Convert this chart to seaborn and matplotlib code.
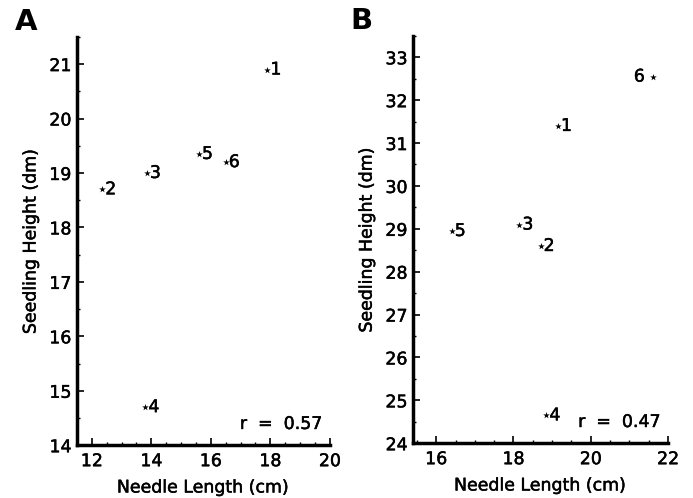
import matplotlib
matplotlib.use("Agg")
import matplotlib.pyplot as plt
import matplotlib.patheffects as pe
import seaborn as sns
import pandas as pd
from matplotlib.ticker import MultipleLocator

# Panel A
a_ids = ["1", "2", "3", "4", "5", "6"]
a_needle = [17.9, 12.35, 13.85, 13.8, 15.6, 16.5]
a_height = [20.9, 18.7, 19.0, 14.7, 19.35, 19.2]
a_r = "r  =  0.57"

# Panel B
b_ids = ["1", "2", "3", "4", "5", "6"]
b_needle = [19.15, 18.7, 18.15, 18.85, 16.4, 21.6]
b_height = [31.4, 28.6, 29.1, 24.65, 28.95, 32.55]
b_r = "r  =  0.47"

sns.set_theme(style="ticks")
plt.rcParams["font.family"] = ["DejaVu Sans"]
plt.rcParams["text.color"] = "black"
plt.rcParams["axes.labelcolor"] = "black"
plt.rcParams["xtick.color"] = "black"
plt.rcParams["ytick.color"] = "black"

# slightly heavier strokes for text, like the printed figure
thick = [pe.withStroke(linewidth=0.35, foreground="black")]

fig = plt.figure(figsize=(6.93, 4.98), dpi=100)
ax_a = fig.add_axes([0.111, 0.106, 0.365, 0.820])
ax_b = fig.add_axes([0.596, 0.110, 0.368, 0.818])


def draw_panel(ax, ids, xs, ys, rtext, xlim, ylim, xmaj, letter, left_labels=()):
    df = pd.DataFrame({"x": xs, "y": ys, "id": ids})
    sns.scatterplot(data=df, x="x", y="y", ax=ax, marker="*", s=25,
                    color="black", linewidth=0)
    xr = xlim[1] - xlim[0]
    for _, row in df.iterrows():
        if row["id"] in left_labels:
            ax.text(row["x"] - 0.03 * xr, row["y"], row["id"], ha="right",
                    va="center", fontsize=12.5, path_effects=thick)
        else:
            ax.text(row["x"] + 0.012 * xr, row["y"], row["id"], ha="left",
                    va="center", fontsize=12.5, path_effects=thick)
    ax.set_xlim(*xlim)
    ax.set_ylim(*ylim)
    ax.xaxis.set_major_locator(MultipleLocator(xmaj))
    ax.xaxis.set_minor_locator(MultipleLocator(0.5))
    ax.yaxis.set_major_locator(MultipleLocator(1))
    ax.yaxis.set_minor_locator(MultipleLocator(0.5))
    ax.tick_params(which="major", direction="in", length=5, width=1.2,
                   labelsize=12.5)
    ax.tick_params(axis="x", which="major", pad=5)
    ax.tick_params(axis="y", which="major", pad=4)
    ax.tick_params(which="minor", direction="in", length=2.5, width=1)
    for lab in ax.get_xticklabels() + ax.get_yticklabels():
        lab.set_path_effects(thick)
    sns.despine(ax=ax)
    for side in ["left", "bottom"]:
        ax.spines[side].set_linewidth(2.5)
        ax.spines[side].set_color("black")
    ax.set_xlabel("Needle Length (cm)", fontsize=12.5, labelpad=6,
                  path_effects=thick)
    ax.set_ylabel("Seedling Height (dm)", fontsize=12.5, labelpad=7,
                  path_effects=thick)
    ax.text(0.97, 0.03, rtext, transform=ax.transAxes, ha="right",
            va="bottom", fontsize=12.5, path_effects=thick)
    ax.text(-0.245, 1.07, letter, transform=ax.transAxes, ha="left",
            va="top", fontsize=21, fontweight="bold")


draw_panel(ax_a, a_ids, a_needle, a_height, a_r, (11.5, 20), (14, 21.5), 2, "A")
draw_panel(ax_b, b_ids, b_needle, b_height, b_r, (15.4, 22), (24, 33.5), 2, "B",
           left_labels=("6",))

fig.savefig("out.png", dpi=100)
